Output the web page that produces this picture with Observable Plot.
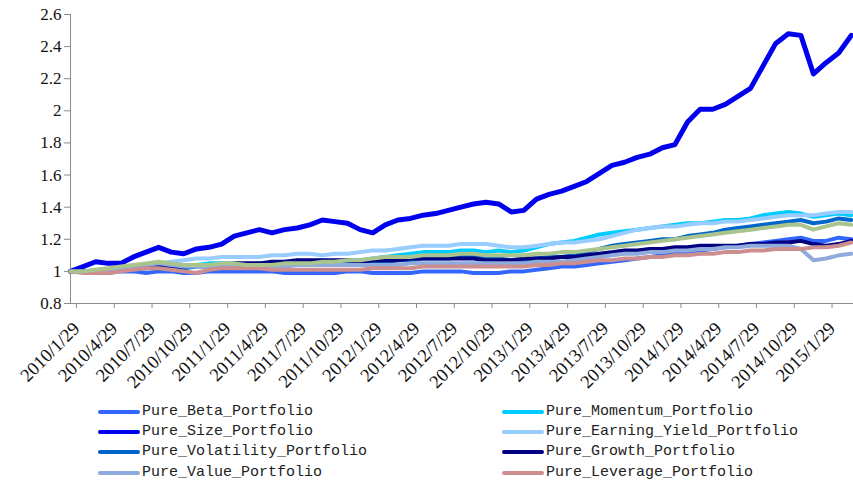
<!DOCTYPE html>
<html><head><meta charset="utf-8">
<script src="https://cdn.jsdelivr.net/npm/d3@7"></script>
<script src="https://cdn.jsdelivr.net/npm/@observablehq/plot@0.6"></script>
<style>
body{margin:0;background:#fff;width:853px;height:484px;overflow:hidden;position:relative}
#chart{position:absolute;left:0;top:0}
.item{position:absolute;height:20px;line-height:20px;font-family:"Liberation Mono",monospace;font-size:15px;color:#222;white-space:nowrap}
.sw{position:absolute;height:4px;border-radius:2px}
</style></head><body>
<div id="chart"></div><div id="legend"></div>
<script>
// x tick labels (every 3 months, month index 0..62 = 2010/1 .. 2015/3)
const xTickLabels = ["2010/1/29","2010/4/29","2010/7/29","2010/10/29","2011/1/29","2011/4/29","2011/7/29","2011/10/29","2012/1/29","2012/4/29","2012/7/29","2012/10/29","2013/1/29","2013/4/29","2013/7/29","2013/10/29","2014/1/29","2014/4/29","2014/7/29","2014/10/29","2015/1/29"];
const yTicks = [0.8,1,1.2,1.4,1.6,1.8,2,2.2,2.4,2.6];
const yTickLabels = ["0.8","1","1.2","1.4","1.6","1.8","2","2.2","2.4","2.6"];

const seriesNames = ["Pure_Beta_Portfolio","Pure_Momentum_Portfolio","Pure_Size_Portfolio","Pure_Earning_Yield_Portfolio","Pure_Volatility_Portfolio","Pure_Growth_Portfolio","Pure_Value_Portfolio","Pure_Leverage_Portfolio","Pure_Series9"];
const seriesColors = ["#3366FF","#00CCFF","#0000EE","#99CCFF","#0066CC","#000080","#8FAADC","#CC8E8E","#A9C48C"];

// monthly values (63 points each)
const beta = [1.00,1.00,0.99,0.99,1.00,1.00,0.99,1.00,1.00, 0.99,0.99,1.00,1.00,1.00,1.00,1.00,1.00,0.99,0.99,0.99, 0.99,0.99,1.00,1.00,0.99,0.99,0.99,0.99,1.00,1.00, 1.00,1.00,0.99,0.99,0.99,1.00,1.00,1.01,1.02,1.03, 1.03,1.04,1.05,1.06,1.07,1.08,1.09,1.10,1.11,1.12, 1.13,1.14,1.15,1.16,1.17,1.18,1.19,1.20,1.21,1.19,1.19,1.21,1.20];
const momentum = [1.00,1.00,0.99,1.00,1.01,1.02,1.03,1.04,1.04, 1.03,1.04,1.05,1.05,1.05,1.04,1.05,1.05,1.06,1.06,1.06, 1.07,1.06,1.07,1.07,1.08,1.09,1.10,1.11,1.12,1.12, 1.12,1.13,1.13,1.12,1.13,1.12,1.13,1.15,1.17,1.18, 1.19,1.21,1.23,1.24,1.25,1.26,1.27,1.28,1.29,1.30, 1.30,1.31,1.32,1.32,1.33,1.35,1.36,1.37,1.36,1.34,1.35,1.36,1.35];
const size = [1.00,1.03,1.06,1.05,1.05,1.09,1.12,1.15,1.12, 1.11,1.14,1.15,1.17,1.22,1.24,1.26,1.24,1.26,1.27,1.29, 1.32,1.31,1.30,1.26,1.24,1.29,1.32,1.33,1.35,1.36, 1.38,1.40,1.42,1.43,1.42,1.37,1.38,1.45,1.48,1.50, 1.53,1.56,1.61,1.66,1.68,1.71,1.73,1.77,1.79,1.93, 2.01,2.01,2.04,2.09,2.14,2.28,2.42,2.48,2.47,2.23,2.30,2.36,2.47];
const earningYield = [1.00,1.00,1.01,1.01,1.02,1.03,1.04,1.05,1.06, 1.07,1.08,1.08,1.09,1.09,1.09,1.09,1.10,1.10,1.11,1.11, 1.10,1.11,1.11,1.12,1.13,1.13,1.14,1.15,1.16,1.16, 1.16,1.17,1.17,1.17,1.16,1.15,1.15,1.16,1.17,1.18, 1.18,1.19,1.20,1.22,1.24,1.26,1.27,1.28,1.28,1.29, 1.30,1.30,1.31,1.31,1.32,1.33,1.34,1.35,1.35,1.35,1.36,1.37,1.37];
const volatility = [1.00,1.00,1.00,1.01,1.01,1.02,1.02,1.03,1.02, 1.02,1.03,1.03,1.03,1.04,1.04,1.04,1.04,1.05,1.05,1.05, 1.06,1.06,1.05,1.05,1.06,1.06,1.07,1.07,1.08,1.08, 1.08,1.09,1.09,1.08,1.08,1.07,1.07,1.08,1.09,1.09, 1.10,1.12,1.14,1.16,1.17,1.18,1.19,1.20,1.20,1.22, 1.23,1.24,1.26,1.27,1.28,1.29,1.30,1.31,1.32,1.30,1.31,1.33,1.32];
const growth = [1.00,1.00,1.00,1.01,1.01,1.02,1.03,1.03,1.03, 1.03,1.04,1.04,1.04,1.05,1.05,1.05,1.06,1.06,1.07,1.07, 1.07,1.07,1.07,1.06,1.07,1.07,1.07,1.08,1.08,1.08, 1.08,1.08,1.08,1.07,1.07,1.07,1.08,1.08,1.08,1.09, 1.09,1.10,1.11,1.12,1.13,1.13,1.14,1.14,1.15,1.15, 1.16,1.16,1.16,1.16,1.17,1.17,1.18,1.18,1.19,1.17,1.16,1.17,1.19];
const value = [1.00,1.00,1.00,1.01,1.02,1.03,1.04,1.05,1.04, 1.03,1.03,1.03,1.03,1.03,1.03,1.03,1.03,1.03,1.04,1.04, 1.04,1.04,1.04,1.04,1.04,1.04,1.04,1.05,1.05,1.05, 1.05,1.05,1.05,1.05,1.05,1.05,1.05,1.06,1.06,1.06, 1.07,1.08,1.09,1.10,1.11,1.11,1.12,1.12,1.13,1.13, 1.14,1.14,1.15,1.15,1.16,1.16,1.16,1.16,1.14,1.07,1.08,1.10,1.11];
const leverage = [1.00,0.99,0.99,0.99,1.00,1.01,1.02,1.02,1.01, 1.00,0.99,1.01,1.02,1.02,1.02,1.02,1.01,1.01,1.01,1.01, 1.01,1.01,1.01,1.01,1.02,1.02,1.02,1.02,1.03,1.03, 1.03,1.03,1.03,1.03,1.03,1.03,1.03,1.04,1.04,1.05, 1.05,1.06,1.07,1.07,1.08,1.08,1.09,1.09,1.10,1.10, 1.11,1.11,1.12,1.12,1.13,1.13,1.14,1.14,1.14,1.15,1.15,1.16,1.18];
const series9 = [1.00,1.00,1.01,1.02,1.03,1.04,1.05,1.06,1.05, 1.04,1.04,1.04,1.05,1.05,1.04,1.04,1.04,1.05,1.05,1.05, 1.06,1.06,1.07,1.07,1.08,1.09,1.09,1.09,1.10,1.10, 1.10,1.11,1.11,1.10,1.10,1.10,1.10,1.11,1.11,1.12, 1.12,1.13,1.14,1.15,1.16,1.17,1.18,1.19,1.20,1.21, 1.22,1.23,1.24,1.25,1.26,1.27,1.28,1.29,1.29,1.26,1.28,1.30,1.29];

const allValues = [beta,momentum,size,earningYield,volatility,growth,value,leverage,series9];
const widths = [4,4,5,4,4,4,4,4,4];

const rows = [];
allValues.forEach((vals,s)=>vals.forEach((v,i)=>rows.push({s, name: seriesNames[s], m: i, v})));

const marks = [
  Plot.frame({anchor:"left", stroke:"#8c8c8c"}),
  Plot.frame({anchor:"bottom", stroke:"#8c8c8c"}),
  Plot.axisY({ticks: yTicks, tickFormat: d => yTickLabels[yTicks.indexOf(d)], tickSize: 6, tickPadding: 3, stroke:"#8c8c8c", fill:"#111", fontSize: 17, label: null}),
  Plot.axisX({ticks: d3.range(0, 61, 3), tickFormat: d => xTickLabels[d/3], tickRotate: -45, tickSize: 5, tickPadding: 17, dx: 6, stroke:"#8c8c8c", fill:"#111", fontSize: 18.5, label: null}),
];
allValues.forEach((vals,s)=>{
  marks.push(Plot.line(rows.filter(r=>r.s===s), {x:"m", y:"v", stroke: seriesColors[s], strokeWidth: widths[s], strokeLinejoin:"round", strokeLinecap:"round"}));
});

const chart = Plot.plot({
  width: 853, height: 395,
  marginLeft: 70, marginRight: 1, marginTop: 14, marginBottom: 92,
  style: {fontFamily: "'Liberation Serif', serif", background: "#fff", color:"#111"},
  x: {type:"linear", domain:[0, 62.1], label: null},
  y: {domain:[0.8, 2.6], label: null},
  marks
});
document.getElementById("chart").appendChild(chart);

// legend (two columns, first 8 series)
const legend = document.getElementById("legend");
const colX = [98, 502];
const rowY = [402, 422, 442, 463];
for (let s = 0; s < 8; s++) {
  const col = s % 2, row = Math.floor(s/2);
  const sw = document.createElement("div");
  sw.className = "sw";
  sw.style.left = colX[col] + "px"; sw.style.top = (rowY[row] + 8) + "px";
  sw.style.width = "42px"; sw.style.background = seriesColors[s];
  legend.appendChild(sw);
  const it = document.createElement("div");
  it.className = "item";
  it.style.left = (colX[col] + 44) + "px"; it.style.top = rowY[row] + "px";
  it.textContent = seriesNames[s];
  legend.appendChild(it);
}
</script>
</body></html>
